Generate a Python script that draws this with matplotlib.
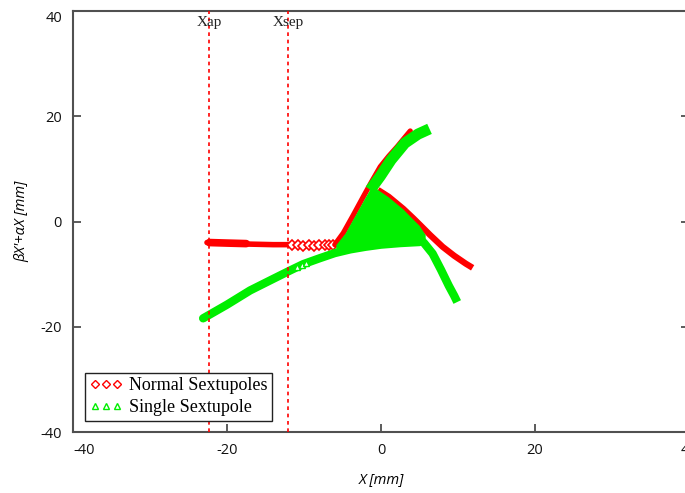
import matplotlib
matplotlib.use("Agg")
import matplotlib.pyplot as plt
from matplotlib.lines import Line2D

plt.rcParams["axes.unicode_minus"] = False

# ---- data ----
x_ticks = [-40, -20, 0, 20, 40]
y_ticks = [-40, -20, 0, 20, 40]
x_ap = -22.3
x_sep = -12.1

# Normal Sextupoles (red)
red_flat_x = [-22.6, -20.0, -17.0, -14.0, -12.0]
red_flat_y = [-4.0, -4.1, -4.3, -4.4, -4.4]
red_thick_x = [-22.3, -20.0, -17.5]
red_thick_y = [-4.0, -4.1, -4.2]
red_open_x = [-11.5, -10.8, -10.1, -9.4, -8.7, -8.0, -7.3, -6.7, -6.2]
red_open_y = [-4.5, -4.5, -4.6, -4.5, -4.6, -4.5, -4.5, -4.4, -4.4]
red_rise_x = [-6.0, -4.9, -3.6, -2.3, -1.2, -0.1, 1.0, 2.1, 3.0, 3.8]
red_rise_y = [-4.4, -2.2, 1.2, 4.7, 7.6, 10.4, 12.4, 14.2, 15.8, 17.2]
red_desc_x = [-0.4, 1.0, 2.9, 4.2, 5.1, 6.4, 8.0, 9.5, 11.0, 11.9]
red_desc_y = [6.0, 4.7, 2.4, 0.6, -0.7, -2.6, -4.8, -6.5, -8.0, -8.8]

# Single Sextupole (green)
green_low_x = [-23.1, -20.0, -17.0, -14.0, -11.8, -10.1, -8.0, -6.0, -4.0, -2.0, 0.0, 2.5, 5.0]
green_low_y = [-18.4, -15.8, -13.1, -10.9, -9.3, -8.1, -7.0, -6.0, -5.3, -4.8, -4.4, -4.1, -3.9]
green_rise_x = [-1.4, -0.1, 1.3, 3.1, 4.8, 6.3]
green_rise_y = [6.0, 8.6, 11.7, 14.9, 16.6, 17.6]
green_desc_x = [4.6, 5.6, 6.7, 7.8, 8.8, 9.5, 9.9]
green_desc_y = [-2.6, -4.1, -6.1, -9.2, -12.2, -14.1, -15.3]
fan_x = [-5.8, -4.6, -3.3, -2.0, -1.0, -0.4, 1.0, 2.9, 4.1, 5.0, 5.8, 5.8, 3.0, 0.0, -3.0, -5.8]
fan_y = [-4.5, -2.3, 1.1, 4.5, 7.0, 6.0, 4.6, 2.3, 0.5, -0.8, -2.6, -4.0, -4.0, -4.3, -4.8, -5.6]
green_open_x = [-10.9, -10.3, -9.7]
green_open_y = [-8.6, -8.2, -7.8]

series_labels = ["Normal Sextupoles", "Single Sextupole"]

RED = "#ff0000"
GREEN = "#00ee00"

fig = plt.figure(figsize=(6.85, 4.93), dpi=100)
ax = fig.add_axes([73 / 685, 61 / 493, 616 / 685, 421 / 493])

# red series (underneath)
ax.plot(red_flat_x, red_flat_y, color=RED, lw=4.0, solid_capstyle="round", zorder=2)
ax.plot(red_thick_x, red_thick_y, color=RED, lw=5.5, solid_capstyle="round", zorder=2)
ax.plot(red_open_x, red_open_y, ls="none", marker="D", ms=5, mfc="white",
        mec=RED, mew=1.2, zorder=2)
ax.plot(red_rise_x, red_rise_y, color=RED, lw=3.8, solid_capstyle="round", zorder=2)
ax.plot(red_desc_x, red_desc_y, color=RED, lw=4.5, solid_capstyle="butt", zorder=2)

# green series (on top)
ax.fill(fan_x, fan_y, color=GREEN, lw=0, zorder=3)
ax.plot(green_low_x, green_low_y, color=GREEN, lw=6.0, solid_capstyle="round", zorder=3)
ax.plot(green_open_x, green_open_y, ls="none", marker="^", ms=4, mfc="white",
        mec=GREEN, mew=1.0, zorder=3)
ax.plot(green_rise_x, green_rise_y, color=GREEN, lw=8.0, solid_capstyle="butt", zorder=3)
ax.plot(green_desc_x, green_desc_y, color=GREEN, lw=6.0, solid_capstyle="butt", zorder=3)

# aperture / separatrix lines
for xv, lab in [(x_ap, "Xap"), (x_sep, "Xsep")]:
    ax.axvline(xv, color=RED, lw=1.2, ls=(0, (2.2, 2.2)), zorder=4)
    ax.text(xv, 37.9, lab, ha="center", va="center", fontsize=11,
            family="Liberation Serif", color="#222222", zorder=5)

ax.set_xlim(-40, 40)
ax.set_ylim(-40, 40)
ax.set_xticks(x_ticks)
ax.set_yticks(y_ticks)
ax.tick_params(direction="in", length=6, width=1.2, color="#404040",
               labelsize=10.5, labelcolor="#111111", pad=8,
               right=True, top=False)
for lbl in ax.get_xticklabels() + ax.get_yticklabels():
    lbl.set_family("Open Sans")
ax.get_xticklabels()[0].set_ha("left")
ax.get_yticklabels()[-1].set_va("top")

for s in ax.spines.values():
    s.set_color("#505050")
    s.set_linewidth(1.5)

ax.set_xlabel("X [mm]", fontsize=10.5, style="italic", family="Open Sans",
              labelpad=10)
ax.set_ylabel("βX'+αX [mm]", fontsize=10.5, style="italic", family="Open Sans",
              labelpad=8)

handles = [
    Line2D([], [], ls="none", marker="D", ms=4, mfc="none", mec=RED, mew=1.0),
    Line2D([], [], ls="none", marker="^", ms=4.5, mfc="none", mec=GREEN, mew=1.0),
]
leg = ax.legend(handles, series_labels, loc="lower left",
                bbox_to_anchor=(12 / 616, 11 / 421), borderaxespad=0,
                numpoints=3, fancybox=False, framealpha=1, edgecolor="#222222",
                prop={"family": "Liberation Serif", "size": 13},
                handlelength=1.8, handletextpad=0.4, labelspacing=0.3,
                borderpad=0.25)
leg.get_frame().set_linewidth(1.0)

fig.savefig("out.png", dpi=100)
